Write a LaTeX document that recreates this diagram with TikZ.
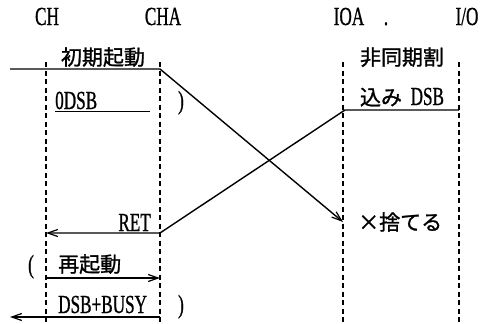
\documentclass[tikz,border=0pt]{standalone}
\usepackage{fontspec}
\setmainfont{Liberation Serif}[FakeStretch=0.66,FakeBold=0.8]
\newfontfamily\jp{Noto Sans CJK JP}[FakeBold=1.2]
\usetikzlibrary{arrows.meta}
\begin{document}
\begin{tikzpicture}[x=1pt,y=-1pt,
  lab/.style={inner sep=0pt,font=\fontsize{26}{26}\selectfont},
  jlab/.style={inner sep=0pt,font=\fontsize{21}{21}\selectfont\jp},
  life/.style={dash pattern=on 5pt off 3.5pt,line width=1.2pt},
  msg/.style={line width=1.4pt},
  tip/.style={-{Straight Barb[length=10pt,width=7pt,line width=1.2pt]}}]
\useasboundingbox (0,0) rectangle (483,324);
% headers
\node[lab,anchor=base] (hCH) at (47,25) {CH};
\node[lab,anchor=base] (hCHA) at (163,25) {CHA};
\node[lab,anchor=base] (hIOA) at (349,25) {IOA};
\node[lab,anchor=base] (hdot) at (386,25) {.};
\node[lab,anchor=base] (hIO) at (467,25) {I/O};
% lifelines
\coordinate (t1) at (46,62);  \coordinate (b1) at (46,324);
\coordinate (t2) at (160,62); \coordinate (b2) at (160,324);
\coordinate (t3) at (343,62); \coordinate (b3) at (343,324);
\coordinate (t4) at (459,62); \coordinate (b4) at (459,324);
\draw[life] (t1) -- (b1);
\draw[life] (t2) -- (b2);
\draw[life] (t3) -- (b3);
\draw[life] (t4) -- (b4);
% message 1
\coordinate (m1s) at (10,69);
\coordinate (m1a) at (160,69);
\coordinate (m1e) at (343,222);
\draw[msg,tip] (m1s) -- (m1a) -- (m1e);
\node[jlab,anchor=base] (l1) at (103,65) {初期起動};
\node[lab,anchor=base west] (l2) at (55,109) {0DSB};
\coordinate (u1) at (55,111); \coordinate (u2) at (150,111);
\draw[line width=1pt] (u1) -- (u2);
\node[lab,anchor=base] (p1) at (181,109) {)};
% message 2
\node[jlab,anchor=base] (r1) at (402,65) {非同期割};
\node[lab,anchor=base] (r2) at (402,105) {{\jp\fontsize{21}{21}\selectfont 込み}\, DSB};
\coordinate (m2s) at (459,110);
\coordinate (m2a) at (345,110);
\coordinate (m2e) at (160,233);
\coordinate (m2f) at (46,233);
\draw[msg,tip] (m2s) -- (m2a) -- (m2e) -- (m2f);
\node[lab,anchor=base east] (ret) at (151,231) {RET};
\node[jlab,anchor=base west] (sute) at (358,230) {×捨てる};
% restart
\node[lab,anchor=base] (p2) at (31,273) {(};
\node[jlab,anchor=base west] (re) at (58,272) {再起動};
\coordinate (m3s) at (46,278);
\coordinate (m3e) at (160,278);
\draw[msg,tip] (m3s) -- (m3e);
\node[lab,anchor=base west] (busy) at (58,313) {DSB+BUSY};
\node[lab,anchor=base] (p3) at (181,313) {)};
\coordinate (m4s) at (160,317);
\coordinate (m4e) at (10,317);
\draw[msg,tip] (m4s) -- (m4e);
\end{tikzpicture}
\end{document}
